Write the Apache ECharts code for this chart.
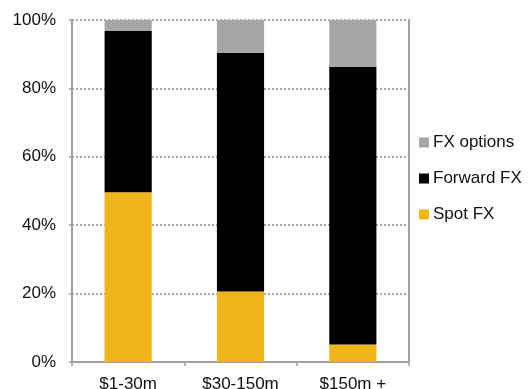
<!DOCTYPE html>
<html>
<head>
<meta charset="utf-8">
<script src="https://cdn.jsdelivr.net/npm/echarts@6/dist/echarts.min.js"></script>
<style>
  html, body { margin: 0; padding: 0; background: #fff; }
  #chart { width: 530px; height: 389px; }
</style>
</head>
<body>
<div id="chart"></div>
<script>
// Deal-size buckets and the share (%) of each FX product used
const categories = ['$1-30m', '$30-150m', '$150m +'];
const spotFX = [49.6, 20.6, 5.1];
const forwardFX = [47.2, 69.8, 81.2];
const fxOptions = [3.2, 9.6, 13.7];
const yTicks = [0, 20, 40, 60, 80, 100];

const FONT = '"Liberation Sans", Arial, sans-serif';
const AXIS_GREY = '#a0a0a0';
const TEXT = '#111';

const chart = echarts.init(document.getElementById('chart'), null, { renderer: 'canvas' });

const stackedBar = (name, data, color) => ({
  name: name,
  type: 'bar',
  stack: 'total',
  data: data,
  barCategoryGap: '58%',
  itemStyle: { color: color },
  emphasis: { disabled: true }
});

chart.setOption({
  animation: false,
  textStyle: { fontFamily: FONT },
  grid: { left: 72, right: 121, top: 20, bottom: 27, containLabel: false, outerBoundsMode: 'none' },
  legend: {
    orient: 'vertical',
    left: 419,
    top: 134,
    padding: 0,
    itemWidth: 10,
    itemHeight: 10,
    itemGap: 19,
    icon: 'rect',
    selectedMode: false,
    data: ['FX options', 'Forward FX', 'Spot FX'],
    textStyle: { fontFamily: FONT, fontSize: 17, color: TEXT, padding: [0, 0, 0, -1] }
  },
  xAxis: {
    type: 'category',
    data: categories,
    axisLine: { lineStyle: { color: AXIS_GREY, width: 2 } },
    axisTick: { show: true, length: 4, lineStyle: { color: AXIS_GREY, width: 1.5 } },
    axisLabel: { fontFamily: FONT, fontSize: 17, color: TEXT, margin: 14 }
  },
  yAxis: [
    {
      type: 'value',
      min: yTicks[0],
      max: yTicks[yTicks.length - 1],
      interval: 20,
      axisLine: { show: true, lineStyle: { color: AXIS_GREY, width: 2 } },
      axisTick: { show: true, length: 3, lineStyle: { color: AXIS_GREY, width: 1.5 } },
      axisLabel: {
        fontFamily: FONT, fontSize: 17, color: TEXT, margin: 16,
        formatter: v => v + '%'
      },
      splitLine: { show: true, lineStyle: { color: '#8c8c8c', type: [2, 2], width: 1.5 } }
    },
    {
      type: 'value',
      position: 'right',
      min: 0,
      max: 100,
      interval: 20,
      axisLine: { show: true, lineStyle: { color: AXIS_GREY, width: 2 } },
      axisTick: { show: false },
      axisLabel: { show: false },
      splitLine: { show: false }
    }
  ],
  series: [
    stackedBar('Spot FX', spotFX, '#F1B51C'),
    stackedBar('Forward FX', forwardFX, '#000000'),
    stackedBar('FX options', fxOptions, '#A6A6A6')
  ]
});
</script>
</body>
</html>
